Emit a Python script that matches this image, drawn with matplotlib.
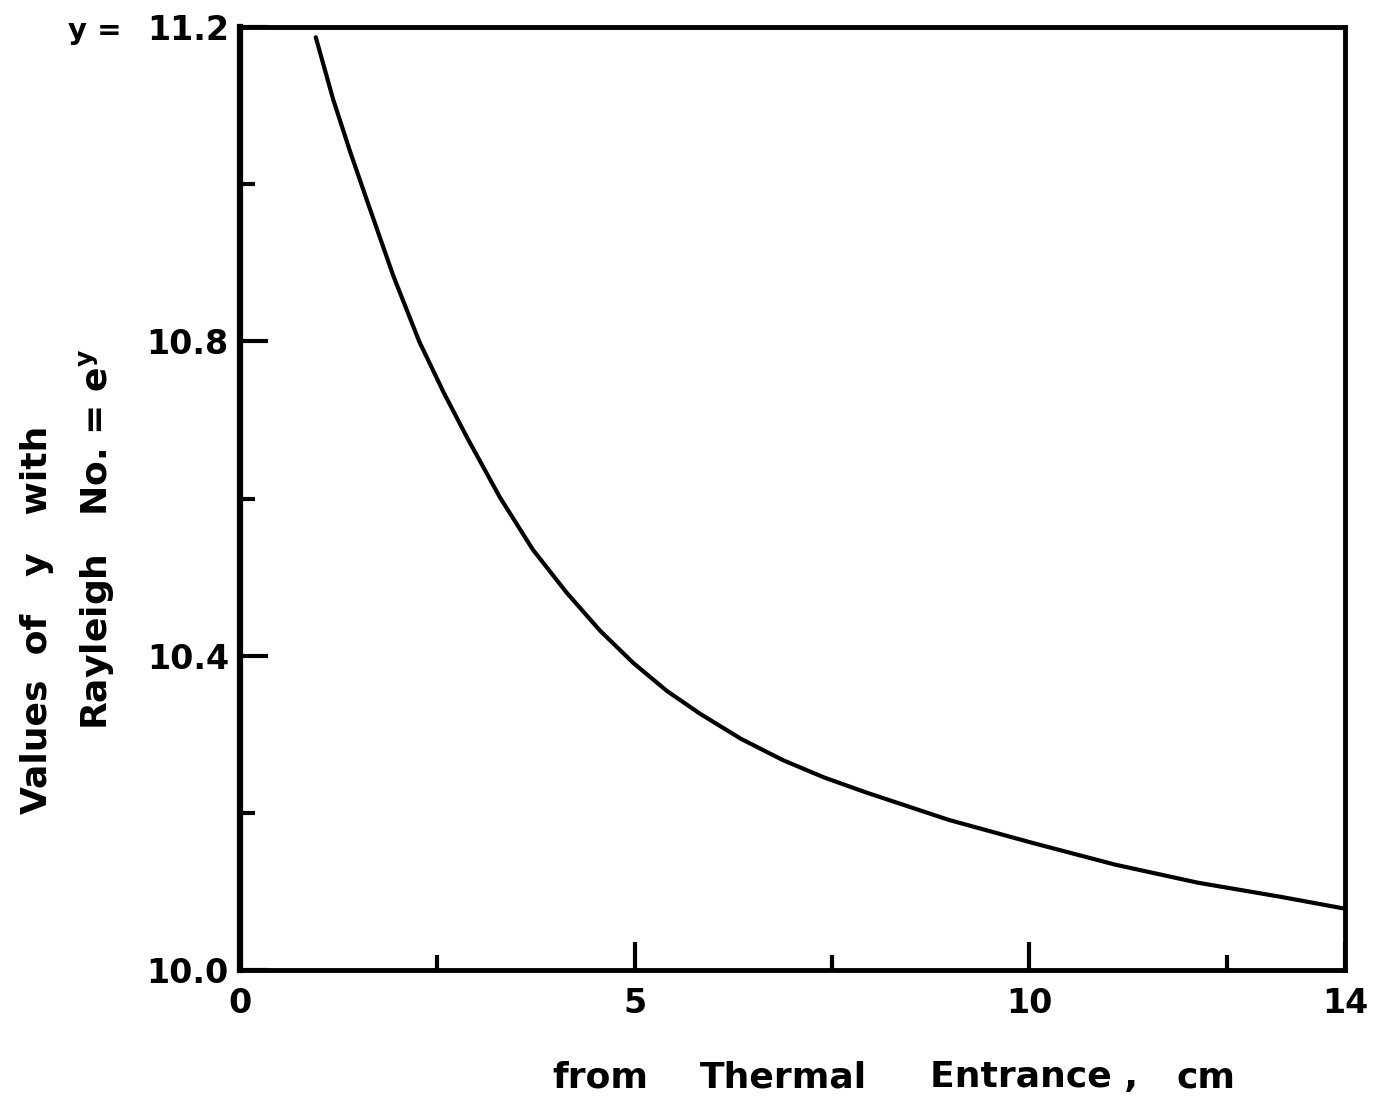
"""Plot the Rayleigh-number exponent y against distance from the thermal entrance."""

import matplotlib.pyplot as plt
from matplotlib.ticker import FixedLocator

OUTPUT_PATH = "out.png"
FIGURE_DPI = 100

# Distance from the thermal entrance, cm
distance_cm = [0.96, 1.18, 1.39, 1.61, 1.94, 2.27, 2.58, 2.88, 3.29, 3.71,
               4.14, 4.56, 4.98, 5.41, 5.83, 6.35, 6.88, 7.40, 7.93, 8.98,
               10.03, 11.09, 12.14, 13.19, 14.0]
# y such that Rayleigh No. = e**y
rayleigh_exponent = [11.187, 11.108, 11.043, 10.979, 10.884, 10.800, 10.735,
                     10.677, 10.602, 10.535, 10.480, 10.432, 10.391, 10.355,
                     10.326, 10.294, 10.267, 10.245, 10.226, 10.191, 10.162,
                     10.134, 10.111, 10.093, 10.078]

x_major_ticks = [0, 5, 10, 14]
x_minor_ticks = [2.5, 7.5, 12.5]
y_major_ticks = [10.0, 10.4, 10.8, 11.2]
y_minor_ticks = [10.2, 10.6, 11.0]
y_tick_labels = ["10.0", "10.4", "10.8", "11.2"]

# x-axis title, one word at a time with its left edge in figure fraction
x_title_words = ["from", "Thermal", "Entrance ,", "cm"]
x_title_lefts = [0.402, 0.510, 0.677, 0.857]


def main() -> None:
    plt.rcParams["font.family"] = "DejaVu Sans"
    plt.rcParams["font.weight"] = "bold"
    plt.rcParams["mathtext.fontset"] = "dejavusans"

    figure = plt.figure(figsize=(13.73, 10.99), dpi=FIGURE_DPI)
    axis = figure.add_axes([0.1748, 0.1174, 0.8048, 0.858])

    axis.plot(distance_cm, rayleigh_exponent, color="black", linewidth=3.0,
              solid_capstyle="round", solid_joinstyle="round")

    axis.set_xlim(0, 14)
    axis.set_ylim(10.0, 11.2)

    axis.xaxis.set_major_locator(FixedLocator(x_major_ticks))
    axis.xaxis.set_minor_locator(FixedLocator(x_minor_ticks))
    axis.yaxis.set_major_locator(FixedLocator(y_major_ticks))
    axis.yaxis.set_minor_locator(FixedLocator(y_minor_ticks))
    axis.set_xticklabels([str(t) for t in x_major_ticks])
    axis.set_yticklabels(y_tick_labels)

    axis.tick_params(which="major", direction="in", length=20, width=3,
                     labelsize=24, pad=12)
    axis.tick_params(which="minor", direction="in", length=11, width=3)
    axis.tick_params(axis="y", which="major", pad=8)

    for spine in axis.spines.values():
        spine.set_linewidth(3.5)
    axis.spines["left"].set_linewidth(4.5)

    # Two-line y label drawn as separate rotated strings
    figure.text(0.027, 0.436, "Values  of   y   with", rotation=90,
                ha="center", va="center", fontsize=26, fontweight="bold")
    figure.text(0.070, 0.509, r"Rayleigh   No. = e$^{\mathbf{y}}$", rotation=90,
                ha="center", va="center", fontsize=26, fontweight="bold")

    figure.text(0.069, 0.972, "y =", ha="center", va="center",
                fontsize=21, fontweight="bold")

    for word, left in zip(x_title_words, x_title_lefts):
        figure.text(left, 0.02, word, ha="left", va="center",
                    fontsize=26, fontweight="bold")

    figure.savefig(OUTPUT_PATH, dpi=FIGURE_DPI)
    plt.close(figure)


if __name__ == "__main__":
    main()
